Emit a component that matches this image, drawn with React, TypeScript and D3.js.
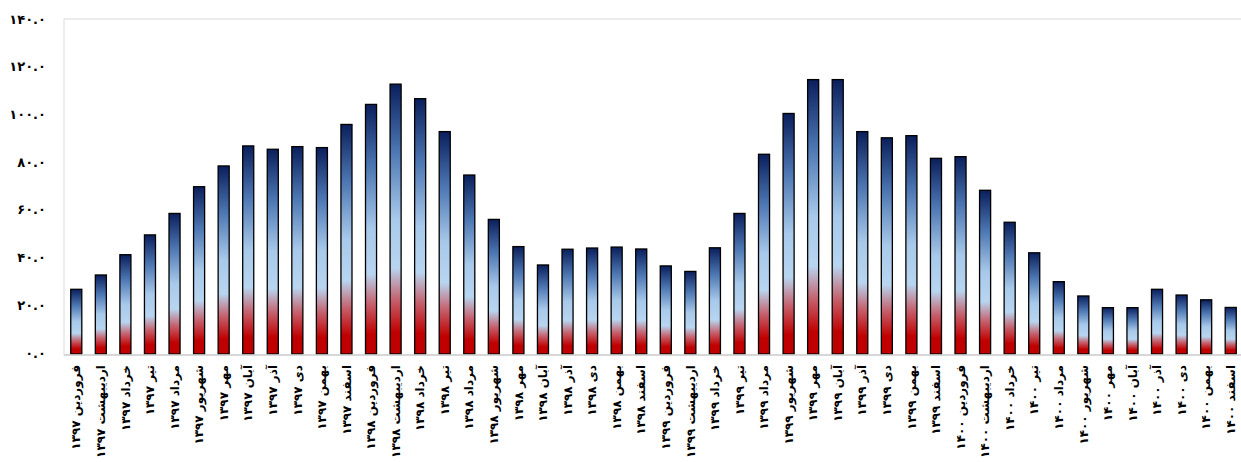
import React from "react";
import * as d3 from "d3";

const months = ["فروردین", "اردیبهشت", "خرداد", "تیر", "مرداد", "شهریور", "مهر", "آبان", "آذر", "دی", "بهمن", "اسفند"];
const years = ["۱۳۹۷", "۱۳۹۸", "۱۳۹۹", "۱۴۰۰"];
const categories: string[] = years.flatMap((y) => months.map((m) => `${m} ${y}`));

const values: number[] = [
  26.7, 32.7, 41.2, 49.5, 58.5, 69.7, 78.4, 86.8, 85.4, 86.5, 86.1, 95.8,
  104.2, 112.7, 106.6, 92.8, 74.6, 56.0, 44.6, 36.9, 43.5, 44.0, 44.4, 43.6,
  36.5, 34.2, 44.1, 58.5, 83.3, 100.4, 114.6, 114.6, 92.8, 90.2, 91.1, 81.6,
  82.3, 68.2, 54.8, 42.0, 29.9, 23.9, 19.0, 19.0, 26.7, 24.3, 22.3, 19.1,
];

const yTicks: number[] = [0, 20, 40, 60, 80, 100, 120, 140];

const toFa = (s: string) => s.replace(/[0-9]/g, (d) => "۰۱۲۳۴۵۶۷۸۹"[+d]);

export default function App() {
  const W = 1241, H = 462;
  const left = 64, right = 1243, top = 19, bottom = 353;
  const x = d3.scaleBand<string>().domain(categories).range([left, right]).paddingInner(0.55).paddingOuter(0.275);
  const y = d3.scaleLinear().domain([0, 140]).range([bottom, top]);

  return (
    <svg width={W} height={H} style={{ position: "absolute", left: 0, top: 0, background: "#fff" }}>
      <defs>
        <linearGradient id="barGrad" x1="0" y1="1" x2="0" y2="0">
          <stop offset="0" stopColor="#c00000" />
          <stop offset="0.08" stopColor="#c00000" />
          <stop offset="0.2" stopColor="#c5606c" />
          <stop offset="0.32" stopColor="#b8d5f0" />
          <stop offset="0.5" stopColor="#a8c9ea" />
          <stop offset="0.75" stopColor="#4d77b3" />
          <stop offset="1" stopColor="#0a1f5c" />
        </linearGradient>
      </defs>
      <rect x={left} y={top} width={right - left} height={bottom + 2 - top} fill="none" stroke="#d9d9d9" strokeWidth={1} />
      {yTicks.map((t) => (
        <text key={t} x={46} y={y(t)} dy="0.35em" textAnchor="end" fontFamily="DejaVu Sans" fontWeight="bold" fontSize={13} fill="#000">
          {toFa(t.toFixed(1))}
        </text>
      ))}
      {values.map((v, i) => (
        <rect
          key={i}
          x={x(categories[i])!}
          y={y(v)}
          width={x.bandwidth()}
          height={y(0) + 1 - y(v)}
          fill="url(#barGrad)"
          stroke="#000"
          strokeWidth={1.3}
        />
      ))}
      <line x1={left} x2={right} y1={bottom + 2} y2={bottom + 2} stroke="#d0d0d0" strokeWidth={1.5} />
      {categories.map((c, i) => {
        const cx = x(c)! + x.bandwidth() / 2;
        return (
          <text
            key={c}
            transform={`translate(${cx},${365}) rotate(-90)`}
            textAnchor="end"
            dy="0.35em"
            fontFamily="DejaVu Sans"
            fontWeight="bold"
            fontSize={12}
            fill="#000"
          >
            {c}
          </text>
        );
      })}
    </svg>
  );
}
